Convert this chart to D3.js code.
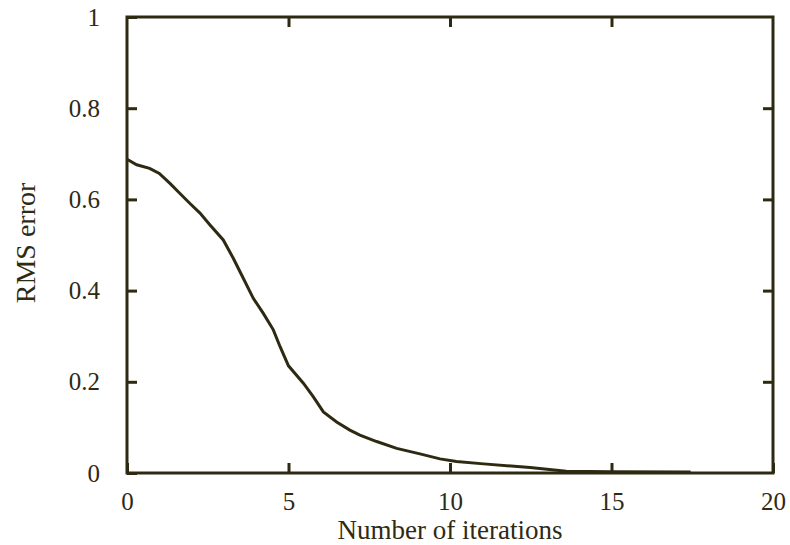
<!DOCTYPE html>
<html>
<head>
<meta charset="utf-8">
<script src="https://cdn.jsdelivr.net/npm/d3@7"></script>
<style>
  body { margin: 0; background: #fff; }
  svg text { font-family: "Liberation Serif", "DejaVu Serif", serif; fill: #2e2a14; }
</style>
</head>
<body>
<div id="chart"></div>
<script>
var width = 790;
var height = 545;
var margin = {top: 17, right: 17, bottom: 72, left: 127};
var ink = '#2e2a12';

// values
var iterations = [0, 0.3, 0.7, 1.0, 1.33, 1.64, 1.95, 2.26, 2.57, 2.98, 3.29, 3.6, 3.91, 4.22, 4.53, 4.74, 5.0, 5.46, 5.77, 6.08, 6.49, 6.9, 7.21, 7.73, 8.35, 9.07, 9.69, 10.2, 11.04, 12.48, 13.6, 15.0, 17.45];
var rmsError = [0.688, 0.676, 0.668, 0.657, 0.635, 0.613, 0.591, 0.570, 0.544, 0.511, 0.471, 0.427, 0.383, 0.350, 0.314, 0.277, 0.235, 0.197, 0.167, 0.134, 0.112, 0.094, 0.083, 0.069, 0.054, 0.042, 0.031, 0.025, 0.020, 0.012, 0.004, 0.003, 0.002];

var xTicks = [0, 5, 10, 15, 20];
var yTicks = [0, 0.2, 0.4, 0.6, 0.8, 1];
var xLabel = 'Number of iterations';
var yLabel = 'RMS error';

var w = width - margin.left - margin.right;
var h = height - margin.top - margin.bottom;

var svg = d3.select('#chart').append('svg')
  .attr('width', width)
  .attr('height', height);

var g = svg.append('g')
  .attr('transform', 'translate(' + margin.left + ',' + margin.top + ')');

var x = d3.scaleLinear().domain([0, 20]).range([0, w]);
var y = d3.scaleLinear().domain([0, 1]).range([h, 0]);

// inward ticks on all four sides, labels only bottom / left
function styleAxis(sel) {
  sel.select('.domain').remove();
  sel.selectAll('.tick line').attr('stroke', ink).attr('stroke-width', 3);
  sel.selectAll('.tick text')
    .style('font-size', '25px');
}

var tickLen = 10;

g.append('g')
  .attr('transform', 'translate(0,' + h + ')')
  .call(d3.axisBottom(x).tickValues(xTicks).tickFormat(d3.format('d'))
    .tickSizeInner(-tickLen).tickSizeOuter(0).tickPadding(19))
  .call(styleAxis);

g.append('g')
  .call(d3.axisTop(x).tickValues(xTicks.slice(1, -1)).tickFormat('')
    .tickSizeInner(-tickLen).tickSizeOuter(0))
  .call(styleAxis);

g.append('g')
  .call(d3.axisLeft(y).tickValues(yTicks).tickFormat(function(d) { return d === 0 || d === 1 ? d : d3.format('.1f')(d); })
    .tickSizeInner(-tickLen).tickSizeOuter(0).tickPadding(27))
  .call(styleAxis);

g.append('g')
  .attr('transform', 'translate(' + w + ',0)')
  .call(d3.axisRight(y).tickValues(yTicks.slice(1, -1)).tickFormat('')
    .tickSizeInner(-tickLen).tickSizeOuter(0))
  .call(styleAxis);

// frame
g.append('rect')
  .attr('x', 0).attr('y', 0)
  .attr('width', w).attr('height', h)
  .attr('fill', 'none')
  .attr('stroke', ink)
  .attr('stroke-width', 3);

var line = d3.line()
  .x(function(d, i) { return x(iterations[i]); })
  .y(function(d) { return y(d); });

g.append('path')
  .datum(rmsError)
  .attr('fill', 'none')
  .attr('stroke', ink)
  .attr('stroke-width', 3)
  .attr('d', line);

svg.append('text')
  .attr('x', margin.left + x(10))
  .attr('y', 539)
  .attr('text-anchor', 'middle')
  .style('font-size', '27px')
  .text(xLabel);

svg.append('text')
  .attr('transform', 'translate(35,' + 243 + ') rotate(-90)')
  .attr('text-anchor', 'middle')
  .style('font-size', '28px')
  .text(yLabel);
</script>
</body>
</html>
